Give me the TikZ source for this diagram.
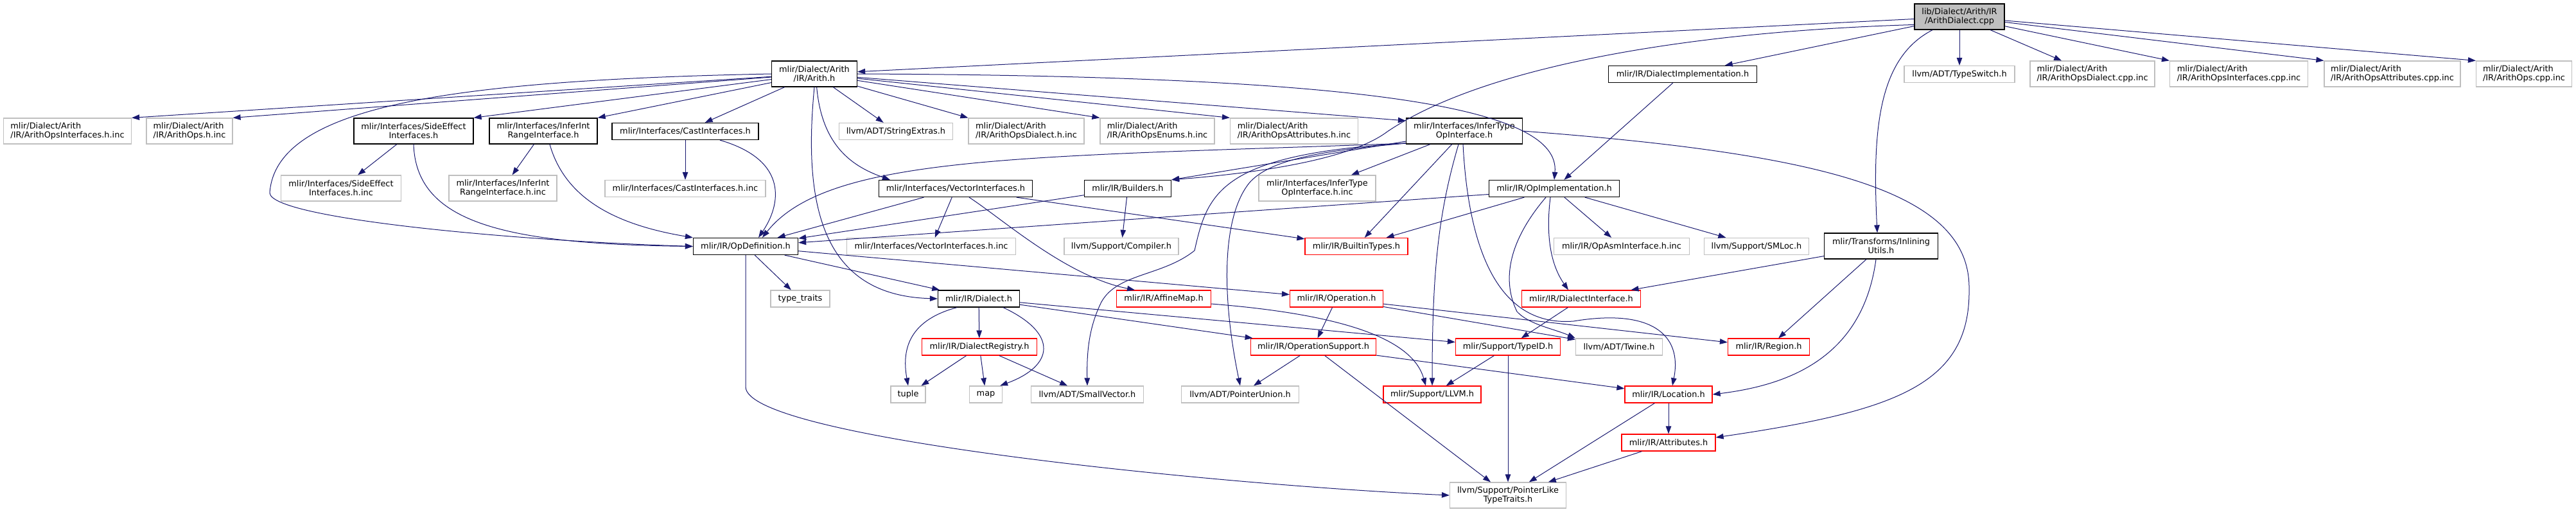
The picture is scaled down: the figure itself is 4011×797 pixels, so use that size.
\documentclass[tikz,border=0pt]{standalone}
\usepackage{fontspec}
\setmainfont{DejaVu Sans}
\usetikzlibrary{arrows.meta}
\definecolor{edgeblue}{HTML}{191970}
\definecolor{boxgrey}{HTML}{BFBFBF}
\definecolor{boxred}{HTML}{FF0000}
\tikzset{
  nb/.style={draw, inner sep=0pt, font=\fontsize{12.9pt}{14pt}\selectfont, minimum height=26pt, align=center},
  blk/.style={nb, draw=black, line width=1.3pt},
  gry/.style={nb, draw=boxgrey, line width=1.2pt},
  redb/.style={nb, draw=boxred, line width=1.2pt},
  rootb/.style={nb, draw=black, fill=boxgrey, line width=1.3pt},
  two/.style={minimum height=40pt},
  lft/.style={align=left},
  dep/.style={draw=edgeblue, line width=1pt, -{Triangle[length=12pt,width=8.5pt]}},
}
\begin{document}
\begin{tikzpicture}[x=1pt,y=-1pt]
\useasboundingbox (0,0) rectangle (4011,797);
% row 0-1
\node[rootb,two,minimum width=140pt] (root) at (3051,26) {lib/Dialect/Arith/IR\\/ArithDialect.cpp};
\node[blk,two,minimum width=133pt] (arith) at (1268,115) {mlir/Dialect/Arith\\/IR/Arith.h};
\node[blk,minimum width=231pt] (dimpl) at (2620,115.5) {mlir/IR/DialectImplementation.h};
\node[gry,minimum width=172pt] (tswitch) at (3051,115.5) {llvm/ADT/TypeSwitch.h};
\node[gry,two,lft,minimum width=194pt] (dcppinc) at (3258,115) {mlir/Dialect/Arith\\/IR/ArithOpsDialect.cpp.inc};
\node[gry,two,lft,minimum width=215pt] (icppinc) at (3486,115) {mlir/Dialect/Arith\\/IR/ArithOpsInterfaces.cpp.inc};
\node[gry,two,lft,minimum width=212pt] (acppinc) at (3725,115) {mlir/Dialect/Arith\\/IR/ArithOpsAttributes.cpp.inc};
\node[gry,two,lft,minimum width=149pt] (ocppinc) at (3930,115) {mlir/Dialect/Arith\\/IR/ArithOps.cpp.inc};
% row 2
\node[gry,two,lft,minimum width=199pt] (aoihinc) at (105,204) {mlir/Dialect/Arith\\/IR/ArithOpsInterfaces.h.inc};
\node[gry,two,lft,minimum width=134pt] (aohinc) at (295,204) {mlir/Dialect/Arith\\/IR/ArithOps.h.inc};
\node[blk,two,minimum width=186pt] (sei) at (644,204) {mlir/Interfaces/SideEffect\\Interfaces.h};
\node[blk,two,minimum width=168pt] (iri) at (846,204) {mlir/Interfaces/InferInt\\RangeInterface.h};
\node[blk,minimum width=228pt] (cast) at (1067,204.5) {mlir/Interfaces/CastInterfaces.h};
\node[gry,minimum width=177pt] (strext) at (1395,204.5) {llvm/ADT/StringExtras.h};
\node[gry,two,lft,minimum width=180pt] (adhinc) at (1598,204) {mlir/Dialect/Arith\\/IR/ArithOpsDialect.h.inc};
\node[gry,two,lft,minimum width=178pt] (aehinc) at (1802,204) {mlir/Dialect/Arith\\/IR/ArithOpsEnums.h.inc};
\node[gry,two,lft,minimum width=199pt] (aahinc) at (2015,204) {mlir/Dialect/Arith\\/IR/ArithOpsAttributes.h.inc};
\node[blk,two,minimum width=181pt] (ito) at (2280,204) {mlir/Interfaces/InferType\\OpInterface.h};
% row 3
\node[gry,two,minimum width=187pt] (seiinc) at (531,293) {mlir/Interfaces/SideEffect\\Interfaces.h.inc};
\node[gry,two,minimum width=168pt] (iriinc) at (783,293) {mlir/Interfaces/InferInt\\RangeInterface.h.inc};
\node[gry,minimum width=250pt] (castinc) at (1067,293.5) {mlir/Interfaces/CastInterfaces.h.inc};
\node[blk,minimum width=239pt] (vec) at (1488,293.5) {mlir/Interfaces/VectorInterfaces.h};
\node[blk,minimum width=135pt] (builders) at (1756,293.5) {mlir/IR/Builders.h};
\node[gry,two,minimum width=182pt] (itoinc) at (2051,293) {mlir/Interfaces/InferType\\OpInterface.h.inc};
\node[blk,minimum width=203pt] (opimpl) at (2420,293.5) {mlir/IR/OpImplementation.h};
% row 4
\node[blk,minimum width=163pt] (opdef) at (1161,383.5) {mlir/IR/OpDefinition.h};
\node[gry,minimum width=263pt] (vecinc) at (1450,383.5) {mlir/Interfaces/VectorInterfaces.h.inc};
\node[gry,minimum width=178pt] (compiler) at (1746,383.5) {llvm/Support/Compiler.h};
\node[redb,minimum width=160pt] (btypes) at (2112,383.5) {mlir/IR/BuiltinTypes.h};
\node[gry,minimum width=211pt] (opasm) at (2525,383.5) {mlir/IR/OpAsmInterface.h.inc};
\node[gry,minimum width=163pt] (smloc) at (2735,383.5) {llvm/Support/SMLoc.h};
\node[blk,two,minimum width=177pt] (inlining) at (2929,383) {mlir/Transforms/Inlining\\Utils.h};
% row 5
\node[gry,minimum width=92pt] (ttraits) at (1246,465) {type\_traits};
\node[blk,minimum width=127pt] (dialect) at (1524,465) {mlir/IR/Dialect.h};
\node[redb,minimum width=147pt] (affine) at (1812,465) {mlir/IR/AffineMap.h};
\node[redb,minimum width=145pt] (operation) at (2081,465) {mlir/IR/Operation.h};
\node[redb,minimum width=185pt] (dialiface) at (2462,465) {mlir/IR/DialectInterface.h};
% row 6
\node[redb,minimum width=179pt] (dreg) at (1525,540) {mlir/IR/DialectRegistry.h};
\node[redb,minimum width=195pt] (opsupp) at (2045,540) {mlir/IR/OperationSupport.h};
\node[redb,minimum width=163pt] (typeid) at (2348,540) {mlir/Support/TypeID.h};
\node[gry,minimum width=135pt] (twine) at (2521,540) {llvm/ADT/Twine.h};
\node[redb,minimum width=127pt] (region) at (2754,540) {mlir/IR/Region.h};
% row 7
\node[gry,minimum width=54pt] (tuple) at (1414,614) {tuple};
\node[gry,minimum width=51pt] (map) at (1535,614) {map};
\node[gry,minimum width=175pt] (smallvec) at (1693,614) {llvm/ADT/SmallVector.h};
\node[gry,minimum width=183pt] (ptrunion) at (1931,614) {llvm/ADT/PointerUnion.h};
\node[redb,minimum width=152pt] (llvmh) at (2230,614) {mlir/Support/LLVM.h};
\node[redb,minimum width=136pt] (location) at (2598,614) {mlir/IR/Location.h};
% row 8-9
\node[redb,minimum width=146pt] (attrs) at (2598,689) {mlir/IR/Attributes.h};
\node[gry,two,minimum width=181pt] (pltt) at (2348,771) {llvm/Support/PointerLike\\TypeTraits.h};

% ---- edges from root
\draw[dep] (root) -- (arith);
\draw[dep] (root.190) .. controls (2600,50) and (2300,110) .. (2160,205) .. controls (2100,250) and (1950,270) .. (builders.north east);
\draw[dep] (root) -- (dimpl);
\draw[dep] (root) -- (tswitch);
\draw[dep] (root) -- (dcppinc);
\draw[dep] (root) -- (icppinc.north west);
\draw[dep] (root) -- (acppinc.north west);
\draw[dep] (root) -- (ocppinc.north west);
\draw[dep] ([xshift=-42pt]root.south) .. controls (2925,90) and (2915,200) .. ([xshift=-6pt]inlining.north);
% ---- Arith.h
\draw[dep] (arith) -- (aoihinc.north east);
\draw[dep] (arith) -- (aohinc.north east);
\draw[dep] (arith) -- (sei.north east);
\draw[dep] (arith) -- (iri.north east);
\draw[dep] (arith) -- (cast);
\draw[dep] (arith.west) .. controls (700,125) and (430,165) .. (420,300) .. controls (420,340) and (800,375) .. (opdef.west);
\draw[dep] (arith) -- (strext);
\draw[dep] (arith) -- (adhinc.north west);
\draw[dep] (arith) -- (aehinc.north west);
\draw[dep] (arith) -- (aahinc.north west);
\draw[dep] (arith) -- (ito.170);
\draw[dep] (arith.east) .. controls (2150,118) and (2430,170) .. (opimpl.north);
\draw[dep] (arith.-80) .. controls (1280,230) and (1330,260) .. ([xshift=18pt]vec.north west);
\draw[dep] (arith.south) .. controls (1250,320) and (1280,460) .. (dialect.west);
% ---- interfaces
\draw[dep] (sei) -- (seiinc);
\draw[dep] (sei.south) .. controls (648,345) and (780,380) .. (opdef.west);
\draw[dep] (iri) -- (iriinc);
\draw[dep] ([xshift=10pt]iri.south) .. controls (880,310) and (960,350) .. (opdef.north west);
\draw[dep] (cast) -- (castinc);
\draw[dep] ([xshift=54pt]cast.south) .. controls (1230,250) and (1215,320) .. ([xshift=20pt]opdef.north);
% ---- InferTypeOpInterface.h
\draw[dep] (ito) -- (itoinc);
\draw[dep] (ito) -- (btypes);
\draw[dep] ([xshift=-9pt]ito.south) .. controls (2240,330) and (2230,420) .. (llvmh.north);
\draw[dep] ([xshift=-2pt]ito.south) .. controls (2285,360) and (2320,510) .. (2450,500) .. controls (2570,480) and (2620,520) .. ([xshift=6pt]location.north);
\draw[dep] ([yshift=-3pt]ito.190) .. controls (1900,240) and (1880,300) .. (1860,390) .. controls (1810,430) and (1740,425) .. (1715,470) .. controls (1695,510) and (1692,550) .. (smallvec.north);
\draw[dep] ([yshift=-3pt]ito.190) .. controls (2050,235) and (1975,250) .. (1945,285) .. controls (1905,335) and (1900,450) .. (ptrunion.north);
\draw[dep] ([yshift=-3pt]ito.190) .. controls (1600,245) and (1290,240) .. ([xshift=26pt]opdef.north);
\draw[dep] (ito.190) -- (builders.north east);
\draw[dep] (ito.east) .. controls (2850,240) and (3068,300) .. (3066,450) .. controls (3068,600) and (2950,640) .. ([yshift=8pt]attrs.east);
% ---- VectorInterfaces.h
\draw[dep] (vec) -- (opdef);
\draw[dep] (vec) -- (vecinc);
\draw[dep] ([xshift=21pt]vec.south) .. controls (1560,340) and (1660,430) .. ([xshift=-45pt]affine.north);
\draw[dep] (vec) -- (btypes);
% ---- Builders.h
\draw[dep] (builders) -- (opdef);
\draw[dep] (builders) -- (compiler);
% ---- OpImplementation.h
\draw[dep] ([yshift=-9pt]opimpl.west) -- (opdef);
\draw[dep] (opimpl) -- (btypes);
\draw[dep] (opimpl) -- (opasm);
\draw[dep] (opimpl) -- (smloc);
\draw[dep] ([xshift=-13pt]opimpl.south) .. controls (2345,380) and (2340,440) .. (2362,485) .. controls (2380,505) and (2420,512) .. (twine.north west);
\draw[dep] ([xshift=-6pt]opimpl.south) .. controls (2405,380) and (2420,420) .. ([xshift=-20pt]dialiface.north);
\draw[dep] (dimpl) -- (opimpl);
% ---- InliningUtils.h
\draw[dep] (inlining) -- (dialiface);
\draw[dep] (inlining) -- (region);
\draw[dep] ([xshift=-8pt]inlining.south) .. controls (2900,560) and (2780,600) .. (location.east);
% ---- OpDefinition.h
\draw[dep] (opdef) -- (ttraits);
\draw[dep] (opdef) -- (dialect);
\draw[dep] (opdef) -- (operation);
\draw[dep] (opdef.south) -- ++(0,205) .. controls +(0,80) and (1900,755) .. (pltt.west);
% ---- Dialect.h
\draw[dep] (dialect) -- (dreg);
\draw[dep] ([xshift=-34pt]dialect.south) .. controls (1410,500) and (1405,550) .. (tuple.north);
\draw[dep] ([xshift=38pt]dialect.south) .. controls (1650,520) and (1640,570) .. ([xshift=-4pt]map.north east);
\draw[dep] (dialect) -- (opsupp);
\draw[dep] (dialect) -- (typeid);
% ---- DialectRegistry.h
\draw[dep] (dreg) -- (tuple);
\draw[dep] (dreg) -- (map);
\draw[dep] (dreg) -- (smallvec);
% ---- AffineMap.h
\draw[dep] ([yshift=-8pt]affine.east) .. controls (2100,490) and (2200,530) .. ([xshift=-10pt]llvmh.north);
% ---- Operation.h
\draw[dep] (operation) -- (opsupp);
\draw[dep] (operation) -- (twine);
\draw[dep] (operation) -- (region);
% ---- lower levels
\draw[dep] (dialiface) -- (typeid);
\draw[dep] (opsupp) -- (ptrunion);
\draw[dep] (opsupp) -- (pltt);
\draw[dep] (opsupp) -- (location);
\draw[dep] (typeid) -- (llvmh);
\draw[dep] (typeid) -- (pltt);
\draw[dep] (location) -- (pltt);
\draw[dep] (location) -- (attrs);
\draw[dep] (attrs) -- (pltt);
\end{tikzpicture}
\end{document}
